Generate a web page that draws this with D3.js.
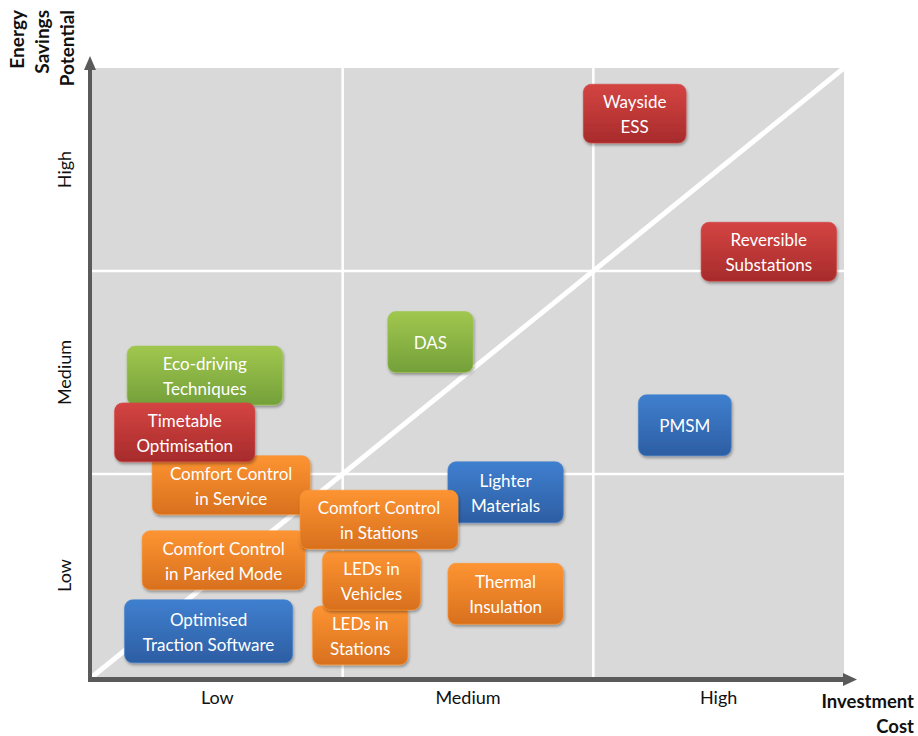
<!DOCTYPE html>
<html><head><meta charset="utf-8">
<script src="https://cdn.jsdelivr.net/npm/d3@7"></script>
<style>
html,body{margin:0;padding:0;background:#fff;}
svg{display:block;}
</style></head>
<body>
<svg id="chart" width="918" height="736"></svg>
<script>
// ---- data ----
const levels = ["Low", "Medium", "High"];
const measures = ["Optimised Traction Software","LEDs in Stations","LEDs in Vehicles","Comfort Control in Parked Mode","Comfort Control in Service","Eco-driving Techniques","Timetable Optimisation","Lighter Materials","Comfort Control in Stations","Thermal Insulation","DAS","PMSM","Wayside ESS","Reversible Substations"];
const labelLines = [["Optimised","Traction Software"],["LEDs in","Stations"],["LEDs in","Vehicles"],["Comfort Control","in Parked Mode"],["Comfort Control","in Service"],["Eco-driving","Techniques"],["Timetable","Optimisation"],["Lighter","Materials"],["Comfort Control","in Stations"],["Thermal","Insulation"],["DAS"],["PMSM"],["Wayside","ESS"],["Reversible","Substations"]];
const groups = ["blue","orange","orange","orange","orange","green","red","blue","orange","orange","green","blue","red","red"];
// investment cost range (0-3 scale) and energy savings range (0-3 scale)
const costLow   = [0.13,0.88,0.92,0.20,0.24,0.14,0.09,1.42,0.83,1.42,1.18,2.18,1.96,2.43];
const costHigh  = [0.80,1.26,1.31,0.85,0.87,0.76,0.65,1.88,1.46,1.88,1.52,2.55,2.37,2.97];
const saveLow   = [0.07,0.06,0.33,0.43,0.80,1.34,1.06,0.76,0.63,0.26,1.50,1.09,2.63,1.95];
const saveHigh  = [0.38,0.35,0.62,0.72,1.09,1.63,1.35,1.06,0.92,0.56,1.80,1.39,2.92,2.24];

const svg = d3.select("#chart");
const L = 92, R = 844, T = 68, B = 677;
const x = d3.scaleLinear().domain([0,3]).range([L,R]);
const y = d3.scaleLinear().domain([0,3]).range([B,T]);
const xb = d3.scaleBand().domain(levels).range([L,R]);
const yb = d3.scaleBand().domain(levels).range([B,T]);

const defs = svg.append("defs");
const palettes = {
  red:["#d44442","#a72b2b"],
  green:["#a0c74e","#74a03a"],
  blue:["#3f7fcf","#2d5ea3"],
  orange:["#fd9432","#d8701e"]
};
Object.entries(palettes).forEach(([k,c])=>{
  const g = defs.append("linearGradient").attr("id","g-"+k).attr("x1",0).attr("y1",0).attr("x2",0).attr("y2",1);
  g.append("stop").attr("offset","0%").attr("stop-color",c[0]);
  g.append("stop").attr("offset","100%").attr("stop-color",c[1]);
});
const f = defs.append("filter").attr("id","shadow").attr("x","-10%").attr("y","-10%").attr("width","130%").attr("height","140%");
f.append("feDropShadow").attr("dx",1).attr("dy",2).attr("stdDeviation",1.5).attr("flood-color","#000").attr("flood-opacity",0.35);
defs.append("clipPath").attr("id","plotclip").append("rect").attr("x",L).attr("y",T).attr("width",R-L).attr("height",B-T);

// plot background
svg.append("rect").attr("x",L).attr("y",T).attr("width",R-L).attr("height",B-T).attr("fill","#d9d9d9");

// grid
const grid = svg.append("g").attr("stroke","#fff").attr("stroke-width",2.5);
[1,2].forEach(v=>{
  grid.append("line").attr("x1",x(v)).attr("x2",x(v)).attr("y1",T).attr("y2",B+5);
  grid.append("line").attr("y1",y(v)).attr("y2",y(v)).attr("x1",L).attr("x2",R);
});
// diagonal
svg.append("line").attr("clip-path","url(#plotclip)")
  .attr("x1",x(0)).attr("y1",y(0)).attr("x2",x(3)).attr("y2",y(3))
  .attr("stroke","#fff").attr("stroke-width",5);

// boxes
const boxes = svg.append("g").selectAll("g").data(measures.map((m,i)=>({m,i}))).join("g");
boxes.append("rect")
  .attr("x",d=>x(costLow[d.i])).attr("y",d=>y(saveHigh[d.i]))
  .attr("width",d=>x(costHigh[d.i])-x(costLow[d.i]))
  .attr("height",d=>y(saveLow[d.i])-y(saveHigh[d.i]))
  .attr("rx",8).attr("ry",8)
  .attr("fill",d=>"url(#g-"+groups[d.i]+")")
  .attr("stroke",d=>palettes[groups[d.i]][0]).attr("stroke-opacity",0.6).attr("stroke-width",1)
  .attr("filter","url(#shadow)");
boxes.append("text")
  .attr("text-anchor","middle")
  .attr("font-family","Lato, 'Open Sans', sans-serif")
  .attr("font-size",17).attr("fill","#fff")
  .each(function(d){
    const lines = labelLines[d.i];
    const cx = (x(costLow[d.i])+x(costHigh[d.i]))/2;
    const cy = (y(saveLow[d.i])+y(saveHigh[d.i]))/2;
    const lh = 25;
    const t = d3.select(this);
    lines.forEach((ln,k)=>{
      t.append("tspan").attr("x",cx).attr("y",cy + (k-(lines.length-1)/2)*lh + 7).text(ln);
    });
  });

// axes
const axCol = "#5a5a5a";
svg.append("line").attr("x1",90).attr("x2",90).attr("y1",68).attr("y2",682).attr("stroke",axCol).attr("stroke-width",4);
svg.append("line").attr("x1",88).attr("x2",845).attr("y1",679.5).attr("y2",679.5).attr("stroke",axCol).attr("stroke-width",5);
svg.append("path").attr("d","M90,56 L84,70 L96,70 Z").attr("fill",axCol);
svg.append("path").attr("d","M857,679.5 L843,673 L843,686 Z").attr("fill",axCol);

// tick labels via axes
const xAxis = svg.append("g").attr("transform","translate(0,685)")
  .call(d3.axisBottom(xb).tickSize(0).tickPadding(0));
xAxis.select(".domain").remove();
xAxis.selectAll("text").attr("font-family","Lato, sans-serif").attr("font-size",18).attr("fill","#111").attr("dy","1.05em");

const yAxis = svg.append("g").attr("transform","translate(71,0)")
  .call(d3.axisLeft(yb).tickSize(0).tickPadding(0));
yAxis.select(".domain").remove();
yAxis.selectAll("text").attr("font-family","Lato, sans-serif").attr("font-size",18).attr("fill","#111")
  .attr("text-anchor","middle").attr("x",0).attr("y",0).attr("dy",0)
  .attr("transform","rotate(-90)");

// axis titles
const tf = "Lato, sans-serif";
svg.append("text").attr("x",914).attr("y",708).attr("text-anchor","end").attr("font-family",tf).attr("font-weight","bold").attr("font-size",18.5).attr("fill","#111").text("Investment");
svg.append("text").attr("x",914).attr("y",733).attr("text-anchor","end").attr("font-family",tf).attr("font-weight","bold").attr("font-size",18.5).attr("fill","#111").text("Cost");
["Energy","Savings","Potential"].forEach((s,k)=>{
  svg.append("text").attr("transform",`translate(${24+k*25},10) rotate(-90)`).attr("text-anchor","end")
    .attr("font-family",tf).attr("font-weight","bold").attr("font-size",19).attr("fill","#111").text(s);
});
</script>
</body></html>
